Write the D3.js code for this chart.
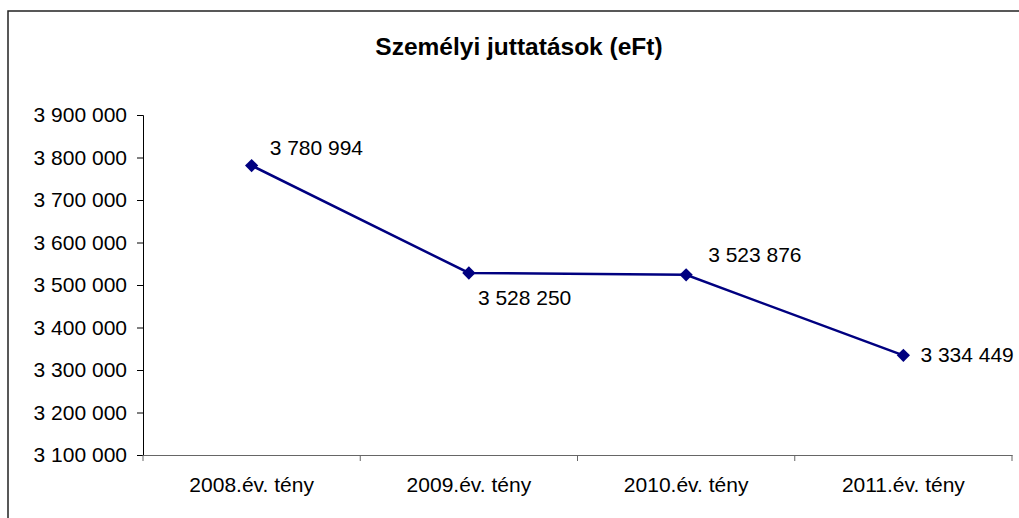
<!DOCTYPE html>
<html>
<head>
<meta charset="utf-8">
<script src="https://cdn.jsdelivr.net/npm/d3@7"></script>
<style>
  body { margin: 0; background: #fff; }
  svg { display: block; font-family: "Liberation Sans", Arial, sans-serif; }
</style>
</head>
<body>
<svg width="1019" height="518"></svg>
<script>
// adatok
var categories = ["2008.év. tény", "2009.év. tény", "2010.év. tény", "2011.év. tény"];
var values = [3780994, 3528250, 3523876, 3334449];
var yTicks = [3100000, 3200000, 3300000, 3400000, 3500000, 3600000, 3700000, 3800000, 3900000];

(function () {
  var svg = d3.select("svg"),
    left = 143, right = 1012, top = 115, bottom = 455;

  // keret (jobb és alsó széle kilóg a képből)
  svg.append("rect")
    .attr("x", 8).attr("y", 11)
    .attr("width", 1030).attr("height", 530)
    .attr("fill", "none")
    .attr("stroke", "#222")
    .attr("stroke-width", 1.5);

  svg.append("text")
    .attr("x", 519).attr("y", 55)
    .attr("text-anchor", "middle")
    .attr("font-size", "24.5px")
    .attr("font-weight", "bold")
    .text("Személyi juttatások (eFt)");

  var x = d3.scaleBand().domain(categories).range([left, right]);
  var y = d3.scaleLinear().domain([3100000, 3900000]).range([bottom, top]);

  var fmt = function (d) { return d3.format(",")(d).replace(/,/g, " "); };

  // y tengely
  var yAxis = svg.append("g")
    .attr("transform", "translate(" + left + ",0)")
    .call(d3.axisLeft(y).tickValues(yTicks).tickSize(6).tickPadding(10).tickFormat(fmt));
  yAxis.selectAll("path, line").attr("stroke", "#000");
  yAxis.selectAll("text").attr("font-size", "21px").attr("fill", "#000")
    .attr("font-family", "'Liberation Sans', Arial, sans-serif");

  // x tengely
  var xAxis = svg.append("g")
    .attr("transform", "translate(0," + bottom + ")")
    .call(d3.axisBottom(x).tickSize(0).tickPadding(0).tickFormat(""));
  xAxis.select(".domain").attr("stroke", "#666");
  xAxis.selectAll(".tick").remove();

  // kategória határ jelölők
  var bounds = d3.range(categories.length + 1).map(function (i) { return left + i * x.step(); });
  svg.append("g").selectAll("line")
    .data(bounds)
    .enter().append("line")
    .attr("x1", function (d) { return d; }).attr("x2", function (d) { return d; })
    .attr("y1", bottom).attr("y2", bottom + 6)
    .attr("stroke", "#666");

  svg.append("g").selectAll("text")
    .data(categories)
    .enter().append("text")
    .attr("x", function (d) { return x(d) + x.bandwidth() / 2; })
    .attr("y", 492)
    .attr("text-anchor", "middle")
    .attr("font-size", "21px")
    .text(function (d) { return d; });

  var cx = function (d, i) { return x(categories[i]) + x.bandwidth() / 2; };

  svg.append("path")
    .datum(values)
    .attr("fill", "none")
    .attr("stroke", "#000080")
    .attr("stroke-width", 2.5)
    .attr("d", d3.line().x(cx).y(function (d) { return y(d); }));

  svg.append("g").selectAll("path")
    .data(values)
    .enter().append("path")
    .attr("d", d3.symbol().type(d3.symbolSquare).size(88))
    .attr("fill", "#000080")
    .attr("transform", function (d, i) {
      return "translate(" + cx(d, i) + "," + y(d) + ") rotate(45)";
    });

  // címkék eltolása (Excel-szerű elhelyezés)
  var off = [[18, -11], [9, 32], [22, -13], [17, 7]];
  svg.append("g").selectAll("text")
    .data(values)
    .enter().append("text")
    .attr("x", function (d, i) { return cx(d, i) + off[i][0]; })
    .attr("y", function (d, i) { return y(d) + off[i][1]; })
    .attr("font-size", "21px")
    .text(fmt);
})();
</script>
</body>
</html>
